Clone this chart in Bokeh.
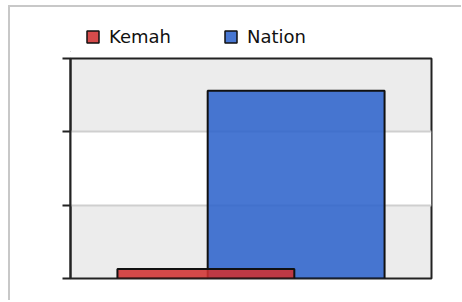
from bokeh.plotting import figure
from bokeh.layouts import column
from bokeh.models import FactorRange, Range1d, FixedTicker, Legend, LegendItem
from bokeh.transform import dodge
from bokeh.embed import file_html
from bokeh.resources import INLINE

groups = [""]
series = ["Kemah", "Nation"]
kemah = [1.3]
nation = [25.6]
y_ticks = [0, 10, 20, 30]
colors = {"Kemah": "#d03030", "Nation": "#2d63cb"}

# legend strip (proxies lie outside the strip's visible range)
lg = figure(x_range=Range1d(0, 1), y_range=Range1d(0, 1), width=451, height=45,
            output_backend="svg", toolbar_location=None,
            min_border_left=60, min_border_right=30, min_border_top=0, min_border_bottom=0)
lg.axis.visible = False
lg.grid.visible = False
lg.outline_line_color = None
lg.background_fill_color = "white"
lr = [lg.vbar(x=[-10], top=[-10], width=0.1, fill_color=colors[s], fill_alpha=0.87,
              line_color="#111111", line_width=1.5) for s in series]
legend = Legend(items=[LegendItem(label=s, renderers=[r]) for s, r in zip(series, lr)],
                orientation="horizontal", location=(15, 5),
                padding=0, margin=0, spacing=52, label_standoff=9,
                glyph_width=15, glyph_height=15,
                label_text_font="DejaVu Sans", label_text_font_size="18px",
                label_text_color="#111111",
                border_line_color=None, background_fill_alpha=0)
lg.add_layout(legend, "center")

p = figure(x_range=FactorRange(*groups), y_range=Range1d(0, 30),
           width=451, height=248, output_backend="svg", toolbar_location=None,
           min_border_left=60, min_border_top=6, min_border_right=30, min_border_bottom=22)
p.x_range.range_padding = 0
p.background_fill_color = "#ececec"
p.border_fill_color = "white"
p.outline_line_color = "#222222"
p.outline_line_width = 2

b_nation = p.vbar(x=dodge("g", 0.125, range=p.x_range), top="v", width=0.49, bottom=0,
                  source={"g": groups, "v": nation},
                  fill_color=colors["Nation"], fill_alpha=0.87, line_color="#111111", line_width=2)
b_kemah = p.vbar(x=dodge("g", -0.125, range=p.x_range), top="v", width=0.49, bottom=0,
                 source={"g": groups, "v": kemah},
                 fill_color=colors["Kemah"], fill_alpha=0.87, line_color="#111111", line_width=2)

p.xaxis.visible = False
p.xgrid.visible = False
p.yaxis.ticker = FixedTicker(ticks=y_ticks)
p.yaxis.major_label_text_font_size = "0px"
p.yaxis.minor_tick_line_color = None
p.yaxis.major_tick_out = 8
p.yaxis.major_tick_in = 0
p.yaxis.major_tick_line_width = 2
p.yaxis.major_tick_line_color = "#222222"
p.yaxis.axis_line_width = 2
p.yaxis.axis_line_color = "#222222"
p.ygrid.grid_line_color = "#cfcfcf"
p.ygrid.grid_line_width = 2
p.ygrid.band_fill_color = "white"
p.ygrid.band_fill_alpha = 1.0

layout = column(lg, p, spacing=0)
layout.styles = {"margin-left": "8px", "margin-top": "5px",
                 "border-top": "2px solid #c8c8c8", "border-left": "2px solid #c8c8c8"}
open("out.html", "w").write(file_html(layout, INLINE))
